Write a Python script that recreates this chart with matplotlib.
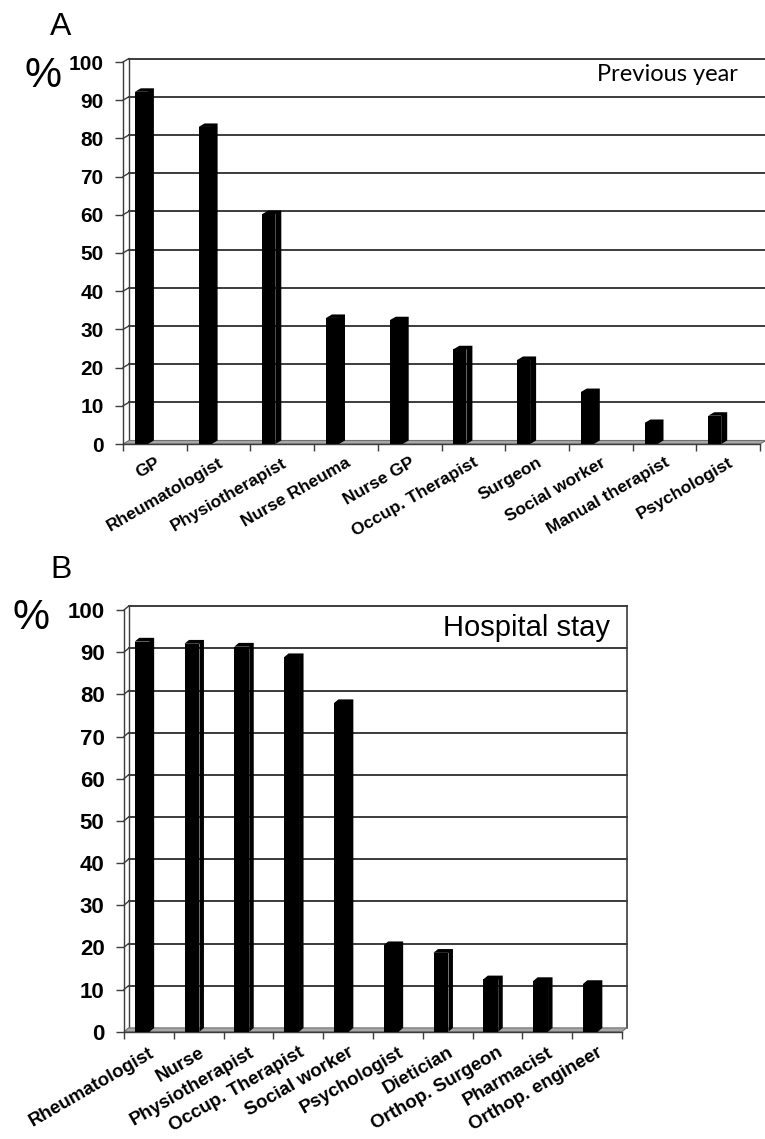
import numpy as np
import matplotlib
matplotlib.use("Agg")
from matplotlib import pyplot as plt

# panel A: previous year
cats_a = ["GP", "Rheumatologist", "Physiotherapist", "Nurse Rheuma", "Nurse GP",
          "Occup. Therapist", "Surgeon", "Social worker", "Manual therapist",
          "Psychologist"]
vals_a = [92.2, 83.0, 60.2, 33.0, 32.4, 24.8, 22.0, 13.6, 5.5, 7.4]

# panel B: hospital stay
cats_b = ["Rheumatologist", "Nurse", "Physiotherapist", "Occup. Therapist",
          "Social worker", "Psychologist", "Dietician", "Orthop. Surgeon",
          "Pharmacist", "Orthop. engineer"]
vals_b = [92.5, 92.0, 91.3, 88.8, 77.9, 20.5, 18.7, 12.4, 12.0, 11.3]

yticks = list(range(0, 101, 10))

W, H = 765, 1139
GRID = "#3c3c3c"
FLOOR = "#a8a8a8"
SANS = "Liberation Sans"


def draw_panel(ax, cats, vals, dx, dy, bar_off, bar_w, tick_size, label_size,
               label_pad, right_wall):
    n = len(cats)
    ax.set_xlim(0, n)
    ax.set_ylim(0, 100)

    # back wall grid + frame
    for v in yticks[1:]:
        ax.plot([dx, n + dx], [v + dy, v + dy], color=GRID, lw=1.4,
                clip_on=False, zorder=1)
        ax.plot([0, dx], [v, v + dy], color=GRID, lw=1.0, clip_on=False, zorder=1)
    ax.plot([dx, dx], [dy, 100 + dy], color=GRID, lw=1.0, clip_on=False, zorder=1)
    if right_wall:
        ax.plot([n + dx, n + dx], [dy, 100 + dy], color=GRID, lw=1.2,
                clip_on=False, zorder=1)

    # floor
    ax.fill([0, n, n + dx, dx], [0, 0, dy, dy], facecolor=FLOOR,
            edgecolor="#707070", lw=0.8, clip_on=False, zorder=2)

    # bars: front face + side/top
    x0 = np.arange(n) + bar_off
    ax.bar(x0, vals, width=bar_w, align="edge", color="black", zorder=3,
           clip_on=False)
    for xl, v in zip(x0, vals):
        xr = xl + bar_w
        ax.fill([xl, xl + dx, xr + dx, xr + dx, xr, xr],
                [v, v + dy, v + dy, dy, 0, v],
                color="black", lw=0, clip_on=False, zorder=3)

    for side in ["top", "right"]:
        ax.spines[side].set_visible(False)
    for side in ["left", "bottom"]:
        ax.spines[side].set_color(GRID)
        ax.spines[side].set_linewidth(1.0)

    ax.set_yticks(yticks)
    ax.set_yticklabels([str(t) for t in yticks], fontsize=tick_size,
                       fontweight="bold", family=SANS)
    ax.tick_params(axis="y", direction="out", length=6, width=1.0,
                   color=GRID, pad=8)

    ax.set_xticks(np.arange(n + 1))
    ax.set_xticklabels([])
    ax.tick_params(axis="x", which="major", direction="out", length=5,
                   width=1.0, color=GRID)
    ax.set_xticks(np.arange(n) + 0.5, minor=True)
    ax.set_xticklabels(cats, minor=True, rotation=30, ha="right", va="top",
                       rotation_mode="anchor", fontsize=label_size,
                       fontweight="bold", family=SANS)
    ax.tick_params(axis="x", which="minor", length=0, pad=label_pad)


fig = plt.figure(figsize=(W / 100, H / 100), dpi=100)

# panel A (front frame from x=123..760, y=62..444 px)
ax_a = fig.add_axes([123 / W, 1 - 444 / H, 637 / W, 382 / H])
draw_panel(ax_a, cats_a, vals_a, dx=6 / 63.7, dy=3.5 / 3.82, bar_off=0.187,
           bar_w=0.204, tick_size=15, label_size=12.5, label_pad=8,
           right_wall=False)
ax_a.text(0.9655, 0.966, "Previous year", transform=ax_a.transAxes,
          ha="right", va="center", fontsize=17, family="Lato")

# panel B (front frame from x=124..622, y=610..1032 px)
ax_b = fig.add_axes([124 / W, 1 - 1031.7 / H, 498 / W, 421.7 / H])
draw_panel(ax_b, cats_b, vals_b, dx=4.5 / 49.8, dy=3.8 / 4.217, bar_off=0.215,
           bar_w=0.30, tick_size=16, label_size=13.5, label_pad=9,
           right_wall=True)
ax_b.text(0.976, 0.957, "Hospital stay", transform=ax_b.transAxes,
          ha="right", va="center", fontsize=21, family=SANS)

# panel letters and % labels
fig.text(50 / W, 1 - 35 / H, "A", fontsize=23, family=SANS, va="baseline")
fig.text(50 / W, 1 - 578 / H, "B", fontsize=23, family=SANS, va="baseline")
fig.text(25 / W, 1 - 87 / H, "%", fontsize=30, family=SANS, va="baseline")
fig.text(13 / W, 1 - 629 / H, "%", fontsize=30, family=SANS, va="baseline")

fig.savefig("out.png", dpi=100)
